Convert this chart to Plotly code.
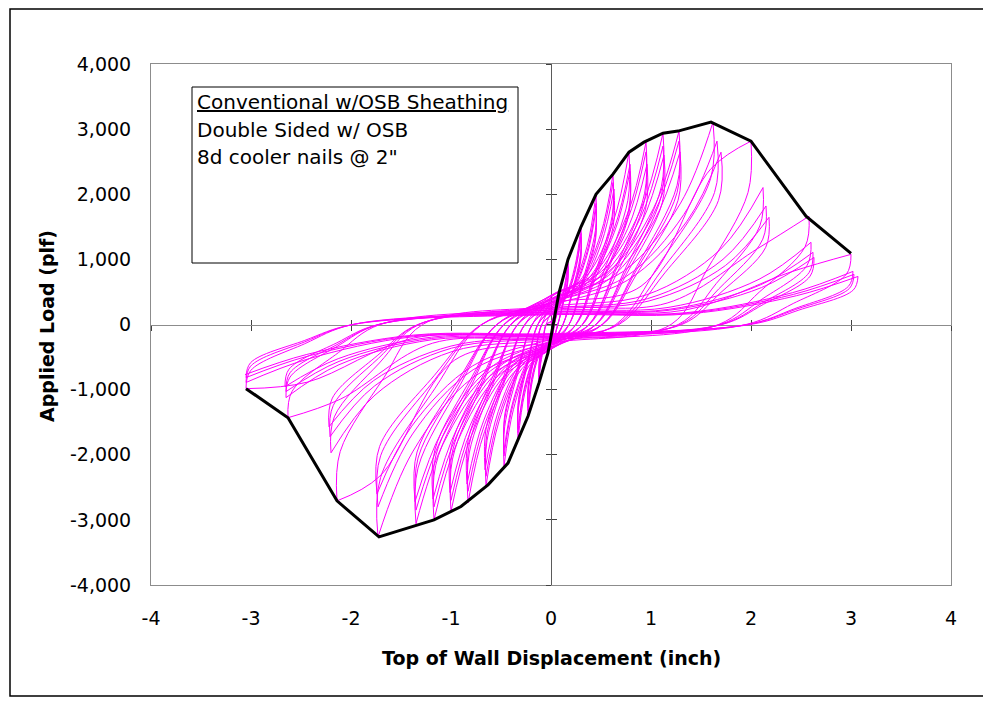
import plotly.graph_objects as go

# ---------------- data ----------------
x_tick_vals = [-4, -3, -2, -1, 0, 1, 2, 3, 4]
x_tick_text = ["-4", "-3", "-2", "-1", "0", "1", "2", "3", "4"]
y_tick_vals = [-4000, -3000, -2000, -1000, 0, 1000, 2000, 3000, 4000]
y_tick_text = ["-4,000", "-3,000", "-2,000", "-1,000", "0", "1,000", "2,000", "3,000", "4,000"]

# backbone (envelope) curve
env_disp = [-3.05, -2.63, -2.14, -1.72, -1.17, -0.90, -0.63, -0.43, -0.23, -0.12, -0.03,
            0.02, 0.05, 0.08, 0.17, 0.30, 0.45, 0.62, 0.78, 0.93, 1.12, 1.27, 1.60, 2.00, 2.55, 3.00]
env_load = [-985, -1431, -2708, -3262, -3000, -2795, -2462, -2128, -1410, -897, -436,
            -35, 231, 487, 1000, 1500, 2000, 2308, 2646, 2800, 2938, 2970, 3108, 2815, 1662, 1092]

# cyclic test: peaks of every cycle, grouped by displacement level
pos_disp = [
    [0.08, 0.08, 0.08],
    [0.17, 0.17, 0.17],
    [0.30, 0.30, 0.30],
    [0.45, 0.45, 0.45],
    [0.62, 0.62, 0.63],
    [0.78, 0.79, 0.79],
    [0.95, 0.95, 0.96],
    [1.12, 1.12, 1.13],
    [1.28, 1.28, 1.29],
    [1.62, 1.66, 1.70],
    [2.00, 2.12, 2.15, 2.18],
    [2.58, 2.60, 2.62, 2.63],
    [3.00, 3.02, 3.03, 3.07],
]
pos_load = [
    [487, 455, 435],
    [1000, 930, 890],
    [1500, 1400, 1340],
    [2000, 1860, 1770],
    [2308, 2180, 2080],
    [2646, 2460, 2350],
    [2800, 2650, 2460],
    [2938, 2740, 2600],
    [2970, 2815, 2650],
    [3108, 2815, 2646],
    [2815, 2103, 1820, 1646],
    [1662, 1262, 1108, 1030],
    [1077, 815, 770, 738],
]
neg_disp = [
    [-0.12, -0.12, -0.12],
    [-0.23, -0.23, -0.23],
    [-0.33, -0.33, -0.33],
    [-0.47, -0.47, -0.47],
    [-0.65, -0.65, -0.66],
    [-0.83, -0.83, -0.84],
    [-1.00, -1.00, -1.01],
    [-1.17, -1.17, -1.18],
    [-1.35, -1.35, -1.36],
    [-1.73, -1.73, -1.74],
    [-2.14, -2.20, -2.21, -2.22],
    [-2.63, -2.65, -2.65, -2.66],
    [-3.05, -3.05, -3.05, -3.06],
]
neg_load = [
    [-897, -840, -800],
    [-1410, -1320, -1270],
    [-1780, -1660, -1600],
    [-2180, -2020, -1930],
    [-2480, -2330, -2230],
    [-2740, -2560, -2450],
    [-2870, -2700, -2580],
    [-3000, -2800, -2680],
    [-3060, -2850, -2720],
    [-3262, -2800, -2600],
    [-2708, -1970, -1723, -1570],
    [-1431, -1123, -1030, -954],
    [-985, -890, -815, -770],
]
# load where each pinched branch crosses zero displacement
pinch_up = [
    [60, 50, 40],
    [170, 150, 140],
    [260, 230, 210],
    [330, 290, 260],
    [380, 330, 300],
    [420, 360, 320],
    [440, 380, 330],
    [450, 390, 340],
    [440, 380, 330],
    [400, 340, 300],
    [330, 280, 250, 230],
    [260, 220, 200, 190],
    [190, 170, 160, 150],
]
pinch_dn = [
    [-320, -300, -290],
    [-330, -300, -280],
    [-340, -300, -270],
    [-360, -310, -270],
    [-370, -320, -280],
    [-380, -320, -280],
    [-380, -320, -270],
    [-370, -310, -260],
    [-350, -290, -250],
    [-320, -270, -230],
    [-280, -240, -210, -190],
    [-230, -200, -180, -160],
    [-180, -160, -150, -140],
]

# ---------------- loop drawing (shape of each half cycle) ----------------
n_pre = 10
knee_first = [0.6] * n_pre + [0.85, 0.7, 0.75]
knee_next = [0.6] * n_pre + [0.55, 0.55, 0.6]
knee_first_n = [0.6] * n_pre + [0.86, 0.8, 0.9]
knee_next_n = [0.6] * n_pre + [0.55, 0.55, 0.6]
zero_frac = [0.4] * n_pre + [0.6, 0.65, 0.65]
rise_frac = [0.2] * n_pre + [0.15, 0.12, 0.12]


def half_path(d0, p0, d1, p1, c, knee, z0, f):
    return [(d0, p0), (0.985 * d0, 0.72 * p0), ((z0 + 0.45 * (1 - z0)) * d0, 0.3 * p0),
            (z0 * d0, 0.0), (0.0, c), (0.45 * d1, 0.5 * c + f * p1),
            (0.8 * d1, knee * p1), (d1, p1)]


hx, hy = [], []


def add(path):
    for px, py in path:
        hx.append(px)
        hy.append(py)
    hx.append(None)
    hy.append(None)


prev = None
prev_g = 0
for g in range(len(pos_disp)):
    for j in range(len(pos_disp[g])):
        dp, pp = pos_disp[g][j], pos_load[g][j]
        dn, pn = neg_disp[g][j], neg_load[g][j]
        kp = knee_first[g] if j == 0 else knee_next[g]
        kn = knee_first_n[g] if j == 0 else knee_next_n[g]
        if prev is None:
            add([(0.0, 0.0), (0.5 * dp, 0.45 * pp), (dp, pp)])
        else:
            add(half_path(prev[0], prev[1], dp, pp, pinch_up[g][j], kp,
                          zero_frac[prev_g], rise_frac[g]))
        add(half_path(dp, pp, dn, pn, pinch_dn[g][j], kn, zero_frac[g], rise_frac[g]))
        prev = (dn, pn)
        prev_g = g

FONT = "DejaVu Sans"

fig = go.Figure()
fig.add_trace(go.Scatter(x=hx, y=hy, mode="lines", connectgaps=False,
                         line=dict(color="#FF00FF", width=1, shape="spline", smoothing=1.0),
                         hoverinfo="skip", showlegend=False))
fig.add_trace(go.Scatter(x=env_disp, y=env_load, mode="lines",
                         line=dict(color="#000000", width=3),
                         hoverinfo="skip", showlegend=False))
# helper traces for the crossing tick marks at the zero axes
for ax in ("2", "3"):
    fig.add_trace(go.Scatter(x=[None], y=[None], xaxis="x" + ax, yaxis="y" + ax,
                             showlegend=False, hoverinfo="skip"))

common_x = dict(range=[-4, 4], tickvals=x_tick_vals, showgrid=False, zeroline=False)
common_y = dict(range=[-4000, 4000], tickvals=y_tick_vals, showgrid=False, zeroline=False)

# the page adds an 8px body margin; the figure is sized/margined to compensate
fig.update_layout(
    width=983, height=689,
    margin=dict(l=143, r=40, t=56, b=112),
    paper_bgcolor="white", plot_bgcolor="white",
    font=dict(family=FONT, size=19, color="black"),
    xaxis=dict(**common_x, ticktext=x_tick_text, ticks="", showline=True, mirror=True,
               linecolor="#8c8c8c", linewidth=1, layer="below traces",
               tickfont=dict(family=FONT, size=19), ticklabelstandoff=16),
    yaxis=dict(**common_y, ticktext=y_tick_text, ticks="", showline=True, mirror=True,
               linecolor="#8c8c8c", linewidth=1, layer="below traces",
               tickfont=dict(family=FONT, size=19), ticklabelstandoff=15),
    xaxis2=dict(**common_x, overlaying="x", anchor="free", position=0.5, ticks="outside",
                ticklen=5, tickcolor="#404040", showticklabels=False, showline=True,
                linecolor="#8c8c8c", layer="below traces"),
    xaxis3=dict(**common_x, overlaying="x", anchor="free", position=0.5, ticks="inside",
                ticklen=5, tickcolor="#404040", showticklabels=False, showline=False,
                layer="below traces"),
    yaxis2=dict(**common_y, overlaying="y", anchor="free", position=0.5, ticks="outside",
                ticklen=5, tickcolor="#404040", showticklabels=False, showline=True,
                linecolor="#5a5a5a", layer="below traces"),
    yaxis3=dict(**common_y, overlaying="y", anchor="free", position=0.5, ticks="inside",
                ticklen=5, tickcolor="#404040", showticklabels=False, showline=False,
                layer="below traces"),
)

# text box
fig.add_shape(type="rect", xref="paper", yref="paper",
              x0=0.05125, x1=0.45875, y0=0.61804, y1=0.95585,
              line=dict(color="black", width=1), fillcolor="white", layer="above")
box_lines = ["<u>Conventional w/OSB Sheathing</u>", "Double Sided w/ OSB", "8d cooler nails @ 2\""]
box_y = [0.92706, 0.87332, 0.82150]
for t, yy in zip(box_lines, box_y):
    fig.add_annotation(text=t, xref="paper", yref="paper", x=0.05500, y=yy,
                       xanchor="left", yanchor="middle", showarrow=False,
                       font=dict(family=FONT, size=20, color="black"))

# axis titles
fig.add_annotation(text="<b>Top of Wall Displacement (inch)</b>", xref="paper", yref="paper",
                   x=0.5, y=-0.1401, xanchor="center", yanchor="middle", showarrow=False,
                   font=dict(family=FONT, size=19, color="black"))
fig.add_annotation(text="<b>Applied Load (plf)</b>", xref="paper", yref="paper",
                   x=-0.13, y=0.4971, xanchor="center", yanchor="middle", showarrow=False,
                   textangle=-90, font=dict(family=FONT, size=19, color="black"))

# outer chart border
fig.add_shape(type="rect", xref="paper", yref="paper",
              x0=(10 - 151) / 800, x1=(986 - 151) / 800,
              y0=(585 - 696) / 521, y1=(585 - 9) / 521,
              line=dict(color="black", width=1.5), layer="above")

fig.write_html("out.html")
